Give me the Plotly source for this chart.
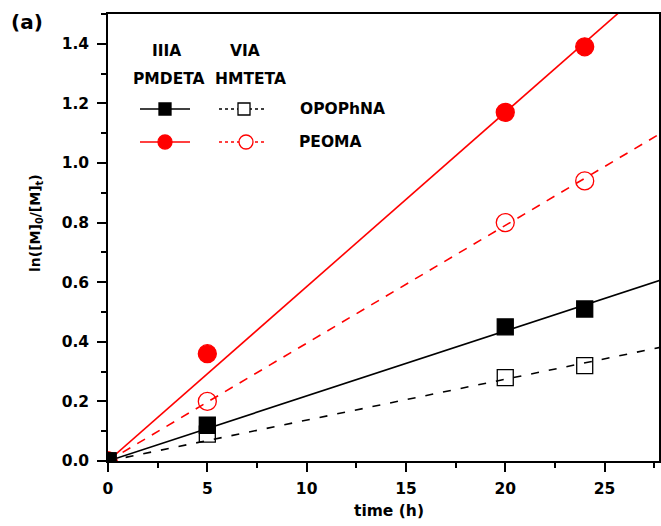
import numpy as np
import plotly.graph_objects as go

time_h = [0, 5, 20, 24]
peoma_iiia = [0, 0.36, 1.17, 1.39]
peoma_via = [0, 0.20, 0.80, 0.94]
opo_iiia = [0, 0.12, 0.45, 0.51]
opo_via = [0, 0.09, 0.28, 0.32]

x_ticks = [0, 5, 10, 15, 20, 25]
y_ticks = [0.0, 0.2, 0.4, 0.6, 0.8, 1.0, 1.2, 1.4]

RED = "#ff0000"
BLK = "#000000"
FONT = "DejaVu Sans, Liberation Sans, Arial, sans-serif"
FS = 15.5

def slope0(x, y):
    x = np.array(x, float); y = np.array(y, float)
    return float((x * y).sum() / (x * x).sum())

fig = go.Figure()
xfit = np.array([0.0, 28.0])
series = [
    (peoma_iiia, RED, "solid", "circle", RED, 18),
    (peoma_via, RED, "9px,8px", "circle-open", RED, 18),
    (opo_iiia, BLK, "solid", "square", BLK, 16),
    (opo_via, BLK, "8px,10px", "square-open", BLK, 16),
]
for ys, col, dash, sym, mc, sz in series:
    k = slope0(time_h, ys)
    fig.add_trace(go.Scatter(x=xfit, y=k * xfit, mode="lines",
                             line=dict(color=col, width=1.6, dash=dash),
                             showlegend=False, hoverinfo="skip"))
for ys, col, dash, sym, mc, sz in series:
    fig.add_trace(go.Scatter(x=time_h, y=ys, mode="markers",
                             marker=dict(symbol=sym, size=sz,
                                         color=mc, line=dict(color=col, width=1.3)),
                             showlegend=False))

L, R, T, B = 108, 659, 14, 461
W, H = 661, 526
def px(x): return (x - L) / (R - L)
def py(y): return (B - y) / (B - T)

ann = []
def text(x, y, s, size=FS, anchor="center", angle=0):
    ann.append(dict(x=px(x), y=py(y), xref="paper", yref="paper", text=s, showarrow=False,
                    xanchor=anchor, yanchor="middle", textangle=angle,
                    font=dict(family=FONT, size=size, color="black")))
text(166, 51, "<b>IIIA</b>")
text(245, 51, "<b>VIA</b>")
text(169, 79, "<b>PMDETA</b>")
text(250, 79, "<b>HMTETA</b>")
text(298, 109, "<b>OPOPhNA</b>", anchor="left")
text(297, 142, "<b>PEOMA</b>", anchor="left")
text(9, 22, "<b>(a)</b>", size=20, anchor="left")
text(389, 511, "<b>time (h)</b>")
text(36, 223, "<b>ln([M]<sub>0</sub>/[M]<sub>t</sub>)</b>", size=14, angle=-90)

shapes = []
def line(x0, x1, y, col, dash):
    shapes.append(dict(type="line", xref="paper", yref="paper", x0=px(x0), x1=px(x1),
                       y0=py(y), y1=py(y), line=dict(color=col, width=1.4, dash=dash)))
def rect(cx, cy, s, fill, col):
    shapes.append(dict(type="rect", xref="paper", yref="paper", x0=px(cx - s / 2), x1=px(cx + s / 2),
                       y0=py(cy + s / 2), y1=py(cy - s / 2), fillcolor=fill,
                       line=dict(color=col, width=1.3)))
def circ(cx, cy, s, fill, col):
    shapes.append(dict(type="circle", xref="paper", yref="paper", x0=px(cx - s / 2), x1=px(cx + s / 2),
                       y0=py(cy + s / 2), y1=py(cy - s / 2), fillcolor=fill,
                       line=dict(color=col, width=1.3)))
line(140, 190, 109, BLK, "solid"); rect(165, 109, 12, BLK, BLK)
line(219, 265, 109, BLK, "dot"); rect(244, 109, 12, "white", BLK)
line(140, 190, 142, RED, "solid"); circ(165, 142, 14, RED, RED)
line(219, 266, 142, RED, "dot"); circ(246, 142, 14, "white", RED)

axis_common = dict(showline=True, linecolor="black", linewidth=1.5, mirror=True,
                   ticks="outside", ticklen=9, tickwidth=1.5, tickcolor="black",
                   showgrid=False, zeroline=False, automargin=False,
                   tickfont=dict(family=FONT, size=FS, color="black"))
fig.update_layout(
    width=W, height=H, margin=dict(l=L, r=W - R, t=T, b=H - B, autoexpand=False),
    paper_bgcolor="white", plot_bgcolor="white",
    xaxis=dict(range=[0, 27.74], tickvals=x_ticks, ticktext=[f"<b>{v}</b>" for v in x_ticks],
               minor=dict(dtick=2.5, ticks="outside", ticklen=5, tickwidth=1.5, tickcolor="black"),
               ticklabelstandoff=4, **axis_common),
    yaxis=dict(range=[0, 1.5], tickvals=y_ticks, ticktext=[f"<b>{v:.1f}</b>" for v in y_ticks],
               minor=dict(dtick=0.1, ticks="outside", ticklen=5, tickwidth=1.5, tickcolor="black"),
               ticklabelstandoff=5, **axis_common),
    annotations=ann, shapes=shapes, showlegend=False,
)
fig.write_html("out.html", config={"displayModeBar": False},
               post_script="document.body.style.margin='0px';document.body.style.overflow='hidden';")
